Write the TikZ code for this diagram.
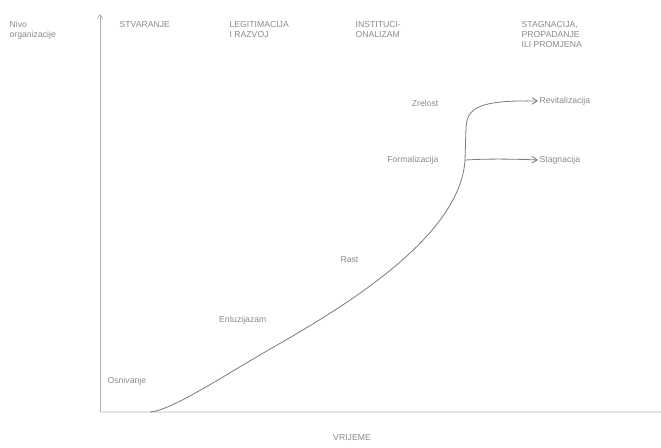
\documentclass[tikz,border=0pt]{standalone}
\usepackage{fontspec}
\setmainfont{Liberation Sans}
\usetikzlibrary{arrows.meta}
\definecolor{txt}{HTML}{8A8A8A}
\definecolor{ln}{HTML}{7A7A7A}
\definecolor{faint}{HTML}{E6E6E6}
\begin{document}
\begin{tikzpicture}[x=0.75pt,y=-0.75pt,
  lab/.style={text=txt,font=\fontsize{6.5}{7.5}\selectfont,inner sep=1pt},
  head/.style={lab,align=left,anchor=north west},
  stage/.style={lab,anchor=east},
  branch/.style={lab,anchor=west},
  curve/.style={draw=ln,line width=0.6pt},
  arr/.style={curve,-{Straight Barb[length=4pt,width=5pt]}}]
\useasboundingbox (0,0) rectangle (661,448);
% axes
\coordinate (o) at (100,412);
\coordinate (ytop) at (100,14);
\coordinate (xend) at (661,412);
\draw[faint,line width=1.5pt] (o) -- (xend);
\draw[ln!60,line width=0.5pt,-{Straight Barb[length=3pt,width=4pt]}] (o) -- (ytop);
% axis labels
\node[head] (yl) at (8,20) {Nivo\\organizacije};
\node[lab] (xl) at (352,438) {VRIJEME};
% column headings
\node[head] (h1) at (118,20) {STVARANJE};
\node[head] (h2) at (228,20) {LEGITIMACIJA\\I RAZVOJ};
\node[head] (h3) at (354,20) {INSTITUCI-\\ONALIZAM};
\node[head] (h4) at (520,20) {STAGNACIJA,\\PROPADANJE\\ILI PROMJENA};
% stage labels
\node[lab,anchor=west] (s1) at (106,381) {Osnivanje};
\node[stage] (s2) at (268,320) {Entuzijazam};
\node[stage] (s3) at (360,260) {Rast};
\node[stage] (s4) at (440,160) {Formalizacija};
\node[stage] (s5) at (440,103) {Zrelost};
% branch ends
\node[branch] (b1) at (538,101) {Revitalizacija};
\node[branch] (b2) at (538,160) {Stagnacija};
% curve
\coordinate (c0) at (150,412);
\coordinate (cm) at (265,352);
\coordinate (fork1) at (465,160);
\coordinate (fork2) at (466,128);
\draw[curve] (c0) .. controls (170,411) and (222,377) .. (cm)
  .. controls (335,312) and (460,240) .. (fork1);
\draw[curve] (fork1) -- (fork2);
\draw[arr] (fork2) .. controls (467,108) and (478,100) .. (b1.west);
\draw[arr] (fork1) .. controls (468,160) and (490,158) .. (b2.west);
\end{tikzpicture}
\end{document}
